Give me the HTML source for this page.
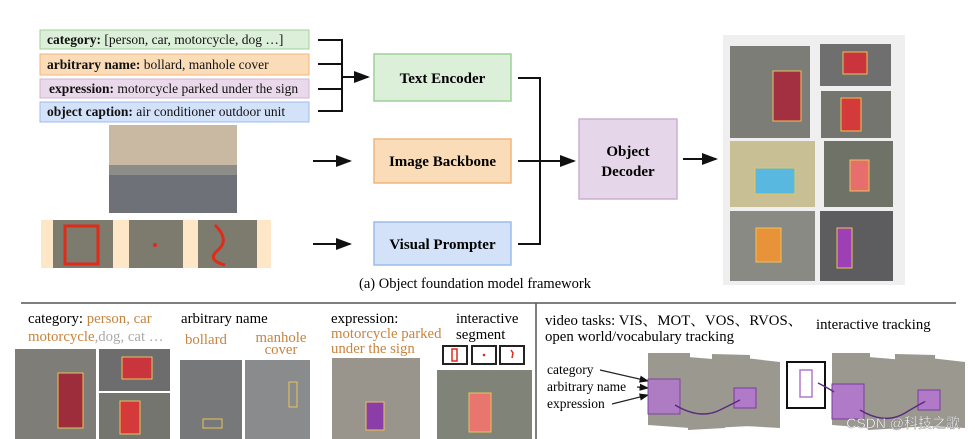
<!DOCTYPE html>
<html><head><meta charset="utf-8"><style>
html,body{margin:0;padding:0;background:#fff;}
svg{display:block;font-family:"Liberation Serif","Noto Serif CJK SC",serif;}
</style></head><body>
<svg width="975" height="439" viewBox="0 0 975 439" xmlns="http://www.w3.org/2000/svg">
<defs><marker id="a" markerWidth="8" markerHeight="6" refX="7" refY="3" orient="auto"><path d="M0,0 L8,3 L0,6 z" fill="#111"/></marker></defs>
<rect x="40" y="30" width="269" height="19" fill="#dcefd9" stroke="#9fcf9a"/>
<text x="47" y="44" font-size="13.5" fill="#111"><tspan font-weight="bold">category:</tspan> [person, car, motorcycle, dog …]</text>
<rect x="40" y="54" width="269" height="21" fill="#fbdcb8" stroke="#f0b57a"/>
<text x="47" y="69" font-size="13.5" fill="#111"><tspan font-weight="bold">arbitrary name:</tspan> bollard, manhole cover</text>
<rect x="40" y="79" width="269" height="19" fill="#ead9ea" stroke="#d3b5d3"/>
<text x="49" y="93" font-size="13.5" fill="#111"><tspan font-weight="bold">expression:</tspan> motorcycle parked under the sign</text>
<rect x="40" y="102" width="269" height="20" fill="#d3e2f8" stroke="#9bbcec"/>
<text x="47" y="116" font-size="13.5" fill="#111"><tspan font-weight="bold">object caption:</tspan> air conditioner outdoor unit</text>
<g stroke="#111" stroke-width="2" fill="none">
<path d="M318 40 H342 M318 64 H342 M318 89 H342 M318 111 H342 M342 39 V112"/>
<path d="M342 77 H368" marker-end="url(#a)"/>
<path d="M313 161 H350" marker-end="url(#a)"/>
<path d="M313 244 H350" marker-end="url(#a)"/>
<path d="M518 78 H540 V244 H518 M518 161 H540"/>
<path d="M540 161 H574" marker-end="url(#a)"/>
<path d="M683 159 H716" marker-end="url(#a)"/>
</g>
<rect x="374" y="54" width="137" height="47" fill="#dcefd9" stroke="#9fcf9a" stroke-width="1.5"/>
<text x="442.5" y="83" font-size="15" font-weight="bold" text-anchor="middle">Text Encoder</text>
<rect x="374" y="139" width="137" height="44" fill="#fbdcb8" stroke="#f0b57a" stroke-width="1.5"/>
<text x="442.5" y="166" font-size="15" font-weight="bold" text-anchor="middle">Image Backbone</text>
<rect x="374" y="222" width="137" height="43" fill="#d3e2f8" stroke="#9bbcec" stroke-width="1.5"/>
<text x="442.5" y="249" font-size="15" font-weight="bold" text-anchor="middle">Visual Prompter</text>
<rect x="579" y="119" width="98" height="80" fill="#e6d6e9" stroke="#ccb0d1" stroke-width="1.5"/>
<text x="628" y="156" font-size="15" font-weight="bold" text-anchor="middle">Object</text>
<text x="628" y="176" font-size="15" font-weight="bold" text-anchor="middle">Decoder</text>
<rect x="109" y="125" width="128" height="88" fill="#8c8c88"/>
<rect x="109" y="125" width="128" height="40" fill="#c9b9a3"/>
<rect x="109" y="175" width="128" height="38" fill="#6e7177"/>
<rect x="41" y="220" width="230" height="48" fill="#fde7c6"/>
<rect x="53" y="220" width="60" height="48" fill="#7d7a6e"/><rect x="65" y="226" width="33" height="38" fill="none" stroke="#e02a1a" stroke-width="3"/>
<rect x="129" y="220" width="54" height="48" fill="#7d7a6e"/><circle cx="155" cy="245" r="2" fill="#e02a1a"/>
<rect x="198" y="220" width="59" height="48" fill="#7d7a6e"/><path d="M215 225 Q230 240 218 250 T225 265" stroke="#e02a1a" stroke-width="3" fill="none"/>
<rect x="723" y="35" width="182" height="250" fill="#efefef"/>
<rect x="730" y="46" width="80" height="92" fill="#7c7d77"/><rect x="773" y="71" width="28" height="50" fill="#a33040" stroke="#e9c45a"/>
<rect x="820" y="44" width="71" height="42" fill="#6f6f70"/><rect x="843" y="52" width="24" height="22" fill="#c9343d" stroke="#e9c45a"/>
<rect x="821" y="91" width="70" height="47" fill="#75756f"/><rect x="841" y="98" width="20" height="33" fill="#d43a3a" stroke="#e9c45a"/>
<rect x="730" y="141" width="85" height="66" fill="#c8bf94"/><rect x="755" y="168" width="40" height="26" fill="#59b8e0" stroke="#e9c45a"/>
<rect x="824" y="141" width="69" height="66" fill="#6f7266"/><rect x="850" y="160" width="19" height="31" fill="#e66f6d" stroke="#e9c45a"/>
<rect x="730" y="211" width="85" height="70" fill="#8a8a85"/><rect x="756" y="228" width="25" height="34" fill="#e8923a" stroke="#e9c45a"/>
<rect x="820" y="211" width="73" height="70" fill="#5d5d5f"/><rect x="837" y="228" width="15" height="40" fill="#9d3fb5" stroke="#e9c45a"/>
<text x="475" y="288" font-size="14.5" text-anchor="middle">(a) Object foundation model framework</text>
<path d="M21 303 H956 M536 303 V439" stroke="#555" stroke-width="1.5" fill="none"/>
<g font-size="14.8">
<text x="28" y="323">category: <tspan fill="#c8843e">person, car</tspan></text>
<text x="28" y="341"><tspan fill="#c8843e">motorcycle</tspan><tspan fill="#aaa">,dog, cat …</tspan></text>
<text x="181" y="323">arbitrary name</text>
<text x="185" y="344" fill="#c8843e">bollard</text>
<text x="281" y="342" fill="#c8843e" text-anchor="middle">manhole</text>
<text x="281" y="354" fill="#c8843e" text-anchor="middle">cover</text>
<text x="331" y="323">expression:</text>
<text x="331" y="338" fill="#c8843e">motorcycle parked</text>
<text x="331" y="353" fill="#c8843e">under the sign</text>
<text x="456" y="323">interactive</text>
<text x="456" y="339">segment</text>
</g>
<rect x="15" y="349" width="81" height="90" fill="#7e7d78"/><rect x="58" y="373" width="25" height="55" fill="#9d2d3a" stroke="#e9c45a"/>
<rect x="99" y="349" width="71" height="42" fill="#6d6d6e"/><rect x="122" y="357" width="30" height="22" fill="#c9343d" stroke="#e9c45a"/>
<rect x="99" y="393" width="71" height="46" fill="#75756f"/><rect x="120" y="401" width="20" height="33" fill="#d43a3a" stroke="#e9c45a"/>
<rect x="180" y="360" width="62" height="79" fill="#77787a"/><rect x="203" y="419" width="19" height="9" fill="none" stroke="#e9c45a"/>
<rect x="245" y="360" width="65" height="79" fill="#8a8b8d"/><rect x="289" y="382" width="8" height="25" fill="none" stroke="#e9c45a"/>
<rect x="332" y="358" width="88" height="81" fill="#9a958c"/><rect x="366" y="402" width="18" height="28" fill="#8b3ea8" stroke="#e9c45a"/>
<g fill="#fff" stroke="#222" stroke-width="2"><rect x="443" y="346" width="24" height="18"/><rect x="472" y="346" width="24" height="18"/><rect x="500" y="346" width="24" height="18"/></g>
<rect x="452" y="349" width="5" height="12" fill="none" stroke="#e02a1a" stroke-width="1.5"/><circle cx="484" cy="355" r="1.3" fill="#e02a1a"/><path d="M511 350 l2 3 -1 5" stroke="#e02a1a" stroke-width="1.5" fill="none"/>
<rect x="437" y="370" width="95" height="69" fill="#7f8378"/><rect x="469" y="393" width="22" height="39" fill="#e8766e" stroke="#e9c45a"/>
<g font-size="14.8">
<text x="545" y="325">video tasks: VIS、MOT、VOS、RVOS、</text>
<text x="545" y="341">open world/vocabulary tracking</text>
<text x="816" y="329">interactive tracking</text>
<text x="547" y="374" font-size="13.5">category</text>
<text x="547" y="391" font-size="13.5">arbitrary name</text>
<text x="547" y="408" font-size="13.5">expression</text>
</g>
<g stroke="#222" stroke-width="1.2" fill="none">
<path d="M600 370 L648 381" marker-end="url(#a)"/><path d="M637 387 L648 388" marker-end="url(#a)"/><path d="M612 404 L648 395" marker-end="url(#a)"/>
</g>
<g fill="#9b9890">
<polygon points="648,353 690,353 690,428 648,425"/><polygon points="688,357 725,360 725,428 688,430"/><polygon points="712,354 750,355 750,426 712,428"/><polygon points="745,358 780,362 780,428 745,426"/>
<polygon points="832,353 870,353 870,428 832,425"/><polygon points="868,357 905,360 905,428 868,430"/><polygon points="895,354 935,355 935,426 895,428"/><polygon points="930,358 965,362 965,428 930,426"/>
</g>
<rect x="648" y="379" width="32" height="35" fill="#b07ac9" stroke="#7b3aa0" opacity="0.9"/>
<rect x="734" y="388" width="22" height="20" fill="#b07ac9" stroke="#7b3aa0"/>
<path d="M675 405 Q700 420 720 410 T740 400" stroke="#5a2a80" stroke-width="1.5" fill="none"/>
<rect x="787" y="362" width="38" height="46" fill="#fff" stroke="#111" stroke-width="2"/>
<rect x="800" y="370" width="12" height="27" fill="none" stroke="#b07ac9" stroke-width="1.5"/>
<rect x="832" y="384" width="32" height="35" fill="#b07ac9" stroke="#7b3aa0"/>
<rect x="918" y="390" width="22" height="20" fill="#b07ac9" stroke="#7b3aa0"/>
<path d="M818 383 Q828 388 834 392 M860 410 Q885 425 905 413 T925 402" stroke="#5a2a80" stroke-width="1.5" fill="none"/>
<text x="960" y="428" font-family="Liberation Sans,Noto Sans CJK SC,sans-serif" font-size="14" fill="#fff" stroke="#888" stroke-width="0.4" text-anchor="end">CSDN @科技之歌</text>
</svg>
</body></html>
